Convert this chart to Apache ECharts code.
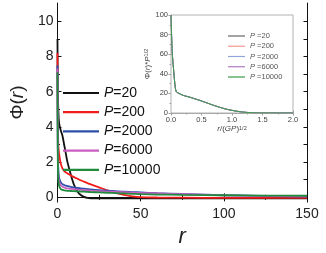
<!DOCTYPE html>
<html><head><meta charset="utf-8">
<script src="https://cdn.jsdelivr.net/npm/echarts@6/dist/echarts.min.js"></script>
<style>html,body{margin:0;padding:0;background:#fff}#c{width:326px;height:253px}</style>
</head><body><div id="c"></div>
<script>
// ---- main panel data ----
const mainNames = ['P=20','P=200','P=2000','P=6000','P=10000'];
const rMain = [0,0.2,0.5,1,2,3,4,5,6,8,10,12,14,16,18,20,25,30,35,40,45,50,60,75,100,125,150];
const phiP20    = [9.0,6.0,5.0,4.2,3.8,3.5,3.0,2.5,2.0,1.3,0.7,0.33,0.13,0.03,-0.03,-0.05,-0.05,-0.05,-0.05,-0.05,-0.05,-0.05,-0.05,-0.05,-0.05,-0.05,-0.05];
const phiP200   = [8.2,4.5,3.0,2.45,1.9,1.65,1.5,1.42,1.36,1.25,1.15,1.06,0.97,0.89,0.81,0.74,0.57,0.4,0.25,0.14,0.06,0.01,-0.01,-0.02,-0.03,-0.03,-0.03];
const phiP2000  = [7.5,3.0,1.6,1.1,0.85,0.75,0.7,0.66,0.64,0.6,0.56,0.53,0.51,0.49,0.47,0.45,0.41,0.38,0.35,0.32,0.3,0.28,0.24,0.19,0.12,0.07,0.04];
const phiP6000  = [7.3,2.7,1.3,0.9,0.68,0.6,0.56,0.53,0.51,0.48,0.46,0.44,0.42,0.41,0.4,0.38,0.35,0.33,0.31,0.29,0.27,0.25,0.22,0.18,0.12,0.08,0.06];
const phiP10000 = [7.1,2.2,1.0,0.65,0.47,0.42,0.4,0.38,0.37,0.36,0.35,0.34,0.33,0.32,0.31,0.3,0.28,0.26,0.24,0.22,0.2,0.18,0.16,0.14,0.12,0.1,0.09];
const mainColors = ['#111111','#f21c1c','#2e4ea8','#c85fc0','#1e8c3c'];
const yMajorTicks = [0,2,4,6,8,10];
const yMinorTicks = [1,3,5,7,9];
const yRightTicks = [0,1,2,3,4,5,6,7,8,9,10];

// ---- inset data ----
const insetNames = ['P =20','P =200','P =2000','P =6000','P =10000'];
const xInset = [0,0.005,0.01,0.02,0.03,0.04,0.055,0.07,0.085,0.1,0.2,0.3,0.4,0.5,0.6,0.7,0.8,0.9,1.0,1.1,1.2,1.3,1.4,1.5,1.7,2.0];
const yInsetP20    = [100,90,78,62,53,46,35,26,22,21,18,16.3,14.3,12.3,10,7.8,5.8,4,2.7,1.6,0.8,0.4,0.2,0.1,0.05,0];
const yInsetP200   = [100,90,78,62,53,46,35,26,22,21,18,16.3,14.3,12.3,10,7.8,5.8,4,2.7,1.6,0.8,0.4,0.2,0.1,0.05,0];
const yInsetP2000  = [100,90,78,62,53,46,35,26,22,21,18,16.3,14.3,12.3,10,7.8,5.8,4,2.7,1.6,0.8,0.4,0.2,0.1,0.05,0];
const yInsetP6000  = [100,90,78,62,53,46,35,26,22,21,18,16.3,14.3,12.3,10,7.8,5.8,4,2.7,1.6,0.8,0.4,0.2,0.1,0.05,0];
const yInsetP10000 = [100,90,78,62,53,46,35,26,22,21,18,16.3,14.3,12.3,10,7.8,5.8,4,2.7,1.6,0.8,0.4,0.2,0.1,0.05,0];
const insetColors = ['#666666','#f49a8f','#8fa6dc','#b07ac0','#3a9a4a'];

const FONT = 'Liberation Sans, Arial, sans-serif';
const mainY = [phiP20,phiP200,phiP2000,phiP6000,phiP10000];
const insetY = [yInsetP20,yInsetP200,yInsetP2000,yInsetP6000,yInsetP10000];
const pair = (xs, ys) => xs.map((x,i)=>[x, ys[i]]);

const series = [];
mainNames.forEach((n,i)=>series.push({
  name:n, type:'line', xAxisIndex:0, yAxisIndex:0, data:pair(rMain, mainY[i]),
  symbol:'none', smooth:0.3, lineStyle:{color:mainColors[i], width:1.8}, itemStyle:{color:mainColors[i]}, z:3, silent:true, animation:false
}));
insetNames.forEach((n,i)=>series.push({
  name:n, type:'line', xAxisIndex:2, yAxisIndex:4, data:pair(xInset, insetY[i]),
  symbol:'none', smooth:0.3, lineStyle:{color:insetColors[i], width:1}, itemStyle:{color:insetColors[i]}, z:5, silent:true, animation:false
}));

const axisCol = '#111';
const G = '#444';
const option = {
  animation:false,
  textStyle:{fontFamily:FONT},
  grid:[
    {left:43, right:19, top:3, bottom:38, show:false},
    {left:171, right:33, top:15, bottom:140, show:true, backgroundColor:'#fff', borderColor:'#a0a0a0', borderWidth:0.8, z:4}
  ],
  legend:[
    {left:58, top:81, orient:'vertical', icon:'rect', itemWidth:36, itemHeight:2.2, itemGap:5.2, data:mainNames,
     textStyle:{fontSize:14, color:'#111', lineHeight:14, rich:{i:{fontStyle:'italic', fontSize:14, color:'#111', fontFamily:FONT}, n:{fontSize:14, color:'#111', fontFamily:FONT}}},
     formatter:n=>'{i|P}{n|'+n.slice(1)+'}', selectedMode:false},
    {left:223, top:27, orient:'vertical', icon:'rect', itemWidth:17, itemHeight:1.2, itemGap:2.25, data:insetNames, z:6,
     textStyle:{fontSize:7.5, color:'#555', lineHeight:7, rich:{i:{fontStyle:'italic', fontSize:7.5, color:'#555', fontFamily:FONT}, n:{fontSize:7.5, color:'#555', fontFamily:FONT}}},
     formatter:n=>'{i|P}{n|'+n.slice(1)+'}', selectedMode:false}
  ],
  xAxis:[
    {gridIndex:0, type:'value', min:0, max:150, interval:50, position:'bottom',
     axisLine:{lineStyle:{color:axisCol, width:1}}, axisTick:{inside:true, length:4, lineStyle:{color:axisCol}},
     minorTick:{show:true, splitNumber:2, length:2.5, lineStyle:{color:axisCol}}, splitLine:{show:false},
     axisLabel:{fontSize:14, color:'#222', margin:5},
     name:'r', nameLocation:'middle', nameGap:20, nameTextStyle:{fontSize:22, fontStyle:'italic', color:'#222'}},
    {gridIndex:0, type:'value', min:0, max:150, interval:50, position:'top',
     axisLine:{lineStyle:{color:axisCol, width:1}}, axisTick:{inside:true, length:4, lineStyle:{color:axisCol}},
     minorTick:{show:true, splitNumber:2, length:2.5, lineStyle:{color:axisCol}}, splitLine:{show:false}, axisLabel:{show:false}},
    {gridIndex:1, type:'value', min:0, max:2, interval:0.5, position:'bottom',
     axisLine:{lineStyle:{color:'#a0a0a0', width:0.8}}, axisTick:{inside:true, length:2.5, lineStyle:{color:'#a0a0a0'}},
     minorTick:{show:true, splitNumber:2, length:1.5, lineStyle:{color:'#a0a0a0'}}, splitLine:{show:false},
     axisLabel:{fontSize:7.5, color:G, margin:3, formatter:v=>v.toFixed(1)},
     name:'{i|r}{a|/(}{i|GP}{a|)}{s|1/2}', nameLocation:'middle', nameGap:12,
     nameTextStyle:{fontSize:8, color:G, rich:{i:{fontStyle:'italic',fontSize:8,color:G,fontFamily:FONT}, a:{fontSize:8,color:G,fontFamily:FONT}, s:{fontSize:5.5,color:G,verticalAlign:'top',fontFamily:FONT}}}},
    {gridIndex:1, type:'value', min:0, max:2, interval:0.5, position:'top',
     axisLine:{show:false}, axisTick:{inside:true, length:2.5, lineStyle:{color:'#a0a0a0'}},
     minorTick:{show:true, splitNumber:2, length:1.5, lineStyle:{color:'#a0a0a0'}}, splitLine:{show:false}, axisLabel:{show:false}}
  ],
  yAxis:[
    {gridIndex:0, type:'value', min:-0.27, max:11.04, position:'left',
     axisLine:{show:true, lineStyle:{color:axisCol, width:1}},
     axisTick:{show:true, inside:true, length:4, customValues:yMajorTicks, lineStyle:{color:axisCol}},
     axisLabel:{fontSize:14, color:'#222', margin:4, customValues:yMajorTicks}, splitLine:{show:false},
     name:'{n|Φ(}{i|r}{n|)}', nameLocation:'middle', nameGap:27,
     nameTextStyle:{fontSize:19, color:'#222', rich:{n:{fontSize:19,color:'#222',fontFamily:FONT}, i:{fontSize:19,fontStyle:'italic',color:'#222',fontFamily:FONT}}}},
    {gridIndex:0, type:'value', min:-0.27, max:11.04, position:'left',
     axisLine:{show:false}, axisTick:{show:true, inside:true, length:2.5, customValues:yMinorTicks, lineStyle:{color:axisCol}},
     axisLabel:{show:false}, splitLine:{show:false}},
    {gridIndex:0, type:'value', min:-0.27, max:11.04, position:'right',
     axisLine:{show:true, lineStyle:{color:axisCol, width:1}}, axisTick:{show:true, inside:true, length:3.5, customValues:yRightTicks, lineStyle:{color:axisCol}},
     axisLabel:{show:false}, splitLine:{show:false}},
    {gridIndex:1, type:'value', min:0, max:100, interval:20, position:'right',
     axisLine:{show:false}, axisTick:{inside:true, length:2.5, lineStyle:{color:'#a0a0a0'}},
     minorTick:{show:true, splitNumber:2, length:1.5, lineStyle:{color:'#a0a0a0'}}, axisLabel:{show:false}, splitLine:{show:false}},
    {gridIndex:1, type:'value', min:0, max:100, interval:20, position:'left',
     axisLine:{show:true, lineStyle:{color:'#a0a0a0', width:0.8}}, axisTick:{inside:true, length:2.5, lineStyle:{color:'#a0a0a0'}},
     minorTick:{show:true, splitNumber:2, length:1.5, lineStyle:{color:'#a0a0a0'}}, splitLine:{show:false},
     axisLabel:{fontSize:7.5, color:G, margin:3},
     name:'{n|Φ(}{i|r}{n|)*}{i|P}{s|1/2}', nameLocation:'middle', nameGap:15,
     nameTextStyle:{fontSize:8, color:G, rich:{n:{fontSize:8,color:G,fontFamily:FONT}, i:{fontSize:8,fontStyle:'italic',color:G,fontFamily:FONT}, s:{fontSize:5.5,color:G,verticalAlign:'top',fontFamily:FONT}}}}
  ],
  series:series
};
const chart = echarts.init(document.getElementById('c'), null, {renderer:'canvas'});
chart.setOption(option);
</script></body></html>
